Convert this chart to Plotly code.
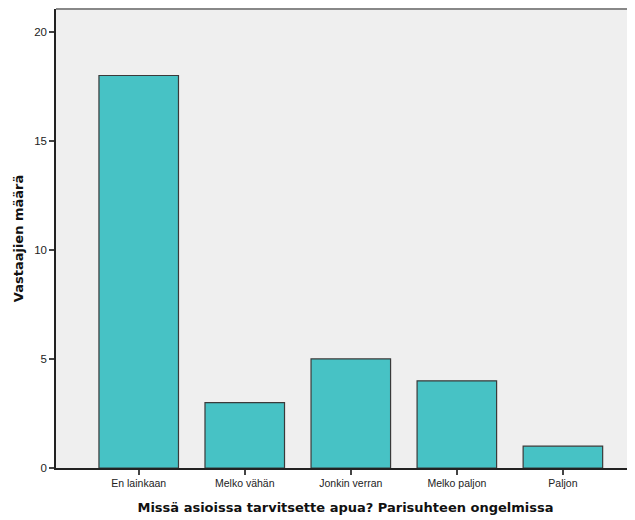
import plotly.graph_objects as go

categories = ["En lainkaan", "Melko vähän", "Jonkin verran", "Melko paljon", "Paljon"]
counts = [18, 3, 5, 4, 1]
y_ticks = [0, 5, 10, 15, 20]

fig = go.Figure(go.Bar(
    x=list(range(len(categories))), y=counts,
    width=0.75,
    marker=dict(color="#47c2c5", line=dict(color="#3a3a3a", width=1.2)),
))

title_font = dict(family="DejaVu Sans, Verdana, sans-serif", size=13, color="#111")

# browser body has an 8px margin, so the figure is 8px smaller and margins shifted
fig.update_layout(
    width=627, height=512,
    margin=dict(l=48, r=0, t=1, b=52),
    paper_bgcolor="white", plot_bgcolor="#efefef",
    font=dict(family="Liberation Sans, Arial, sans-serif", color="#222"),
    showlegend=False,
    xaxis=dict(
        range=[-0.78, 4.68], tickmode="array",
        tickvals=list(range(len(categories))), ticktext=categories,
        ticks="outside", ticklen=5, tickcolor="#444", tickwidth=1.5,
        showline=True, linecolor="#222", linewidth=1.5,
        showgrid=False, zeroline=False,
        tickfont=dict(size=10.5, color="#222"),
        title=dict(text="<b>Missä asioissa tarvitsette apua? Parisuhteen ongelmissa</b>",
                   font=title_font, standoff=15),
    ),
    yaxis=dict(
        range=[0, 21.05], tickmode="array", tickvals=y_ticks,
        ticks="outside", ticklen=5, tickcolor="#444", tickwidth=1.5,
        showline=True, linecolor="#222", linewidth=1.5,
        showgrid=False, zeroline=False,
        tickfont=dict(size=11.5, color="#222"),
        title=dict(text="<b>Vastaajien määrä</b>",
                   font=title_font, standoff=8),
    ),
    shapes=[dict(type="line", xref="paper", yref="paper", x0=0, x1=1, y0=1, y1=1,
                 line=dict(color="#888", width=2))],
)

fig.write_html("out.html")
